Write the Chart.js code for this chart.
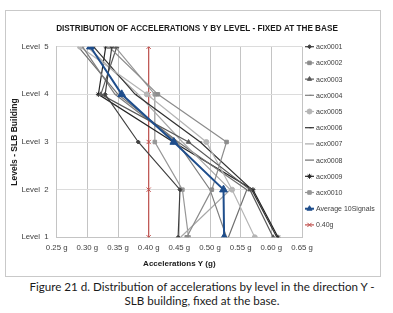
<!DOCTYPE html>
<html>
<head>
<meta charset="utf-8">
<script src="https://cdn.jsdelivr.net/npm/chart.js@4/dist/chart.umd.min.js"></script>
<style>
  body { margin: 0; background: #fff; width: 393px; height: 313px; overflow: hidden; }
  #frame { position: absolute; left: 5px; top: 10px; width: 374px; height: 265px; border: 1px solid #c9c9c9; }
  #frame canvas { display: block; }
  .cap { position: absolute; left: 0; width: 404px; text-align: center; font-family: Lato, "Open Sans", sans-serif; font-size: 11.6px; color: #1a1a1a; white-space: nowrap; }
</style>
</head>
<body>
<div id="frame"><canvas id="chart" width="374" height="265"></canvas></div>
<div class="cap" style="top:280px">Figure 21 d. Distribution of accelerations by level in the direction Y -</div>
<div class="cap" style="top:294px">SLB building, fixed at the base.</div>
<script>
// levels 1..5 (bottom to top)
const levels = [1, 2, 3, 4, 5];

// accelerations Y (g) per level, Level 1 -> Level 5
const acx0001 = [0.448, 0.451, 0.383, 0.329, 0.340];
const acx0002 = [0.462, 0.503, 0.527, 0.415, 0.335];
const acx0003 = [0.603, 0.565, 0.465, 0.322, 0.348];
const acx0004 = [0.527, 0.500, 0.446, 0.345, 0.292];
const acx0005 = [0.573, 0.536, 0.494, 0.397, 0.288];
const acx0006 = [0.609, 0.568, 0.484, 0.378, 0.310];
const acx0007 = [0.452, 0.533, 0.455, 0.383, 0.300];
const acx0008 = [0.530, 0.560, 0.448, 0.350, 0.285];
const acx0009 = [0.611, 0.570, 0.440, 0.318, 0.330];
const acx0010 = [0.465, 0.455, 0.410, 0.410, 0.345];
const average10 = [0.523, 0.522, 0.441, 0.356, 0.305];
const limit040 = [0.40, 0.40, 0.40, 0.40, 0.40];

const xTicks = [0.25, 0.30, 0.35, 0.40, 0.45, 0.50, 0.55, 0.60, 0.65];
const chartTitle = "DISTRIBUTION OF ACCELERATIONS Y BY LEVEL - FIXED AT THE BASE";

const sans = '"Liberation Sans", Arial, sans-serif';

function pts(vals) {
  return vals.map((v, i) => ({ x: v, y: levels[i] }));
}

function series(label, vals, color, style, r, width, order) {
  return {
    label: label,
    data: pts(vals),
    borderColor: color,
    backgroundColor: color,
    borderWidth: width || 1.2,
    pointStyle: style || 'circle',
    pointRadius: r,
    pointBorderWidth: 1,
    pointHoverRadius: r,
    showLine: true,
    tension: 0,
    order: order == null ? 2 : order
  };
}

const datasets = [
  series("acx0001", acx0001, "#404040", "rectRot", 2),
  series("acx0002", acx0002, "#8c8c8c", "rect", 2.5),
  series("acx0003", acx0003, "#5a5a5a", "triangle", 2.5),
  series("acx0004", acx0004, "#7f7f7f", "dash", 2),
  series("acx0005", acx0005, "#b5b5b5", "circle", 2.5),
  series("acx0006", acx0006, "#333333", "dash", 2),
  series("acx0007", acx0007, "#a8a8a8", "circle", 0),
  series("acx0008", acx0008, "#707070", "circle", 0),
  series("acx0009", acx0009, "#262626", "star", 2.5),
  series("acx0010", acx0010, "#979797", "rect", 2.5),
  series("Average 10Signals", average10, "#1f4e8c", "triangle", 4.5, 2, 0),
  series("0.40g", limit040, "#c0504d", "crossRot", 3, 1.2, 3)
];

// title + legend drawn on canvas
const frameDeco = {
  id: 'frameDeco',
  afterDraw(chart) {
    const ctx = chart.ctx;
    ctx.save();
    ctx.font = 'bold 8.2px ' + sans;
    ctx.fillStyle = '#1a1a1a';
    ctx.textAlign = 'center';
    ctx.textBaseline = 'middle';
    ctx.fillText(chartTitle, 191, 18);

    ctx.font = '7px ' + sans;
    ctx.textAlign = 'left';
    chart.data.datasets.forEach((ds, i) => {
      const y = chart.chartArea.top + i * 16.2;
      ctx.strokeStyle = ds.borderColor;
      ctx.lineWidth = ds.borderWidth;
      ctx.beginPath();
      ctx.moveTo(299, y);
      ctx.lineTo(308, y);
      ctx.stroke();
      if (ds.pointRadius > 0 && Chart.helpers && Chart.helpers.drawPoint) {
        ctx.fillStyle = ds.backgroundColor;
        ctx.lineWidth = 1;
        Chart.helpers.drawPoint(ctx, {
          pointStyle: ds.pointStyle,
          radius: Math.min(ds.pointRadius, 3),
          rotation: 0,
          borderWidth: 1
        }, 303.5, y);
      }
      ctx.fillStyle = '#404040';
      ctx.fillText(ds.label, 310, y + 0.5);
    });
    ctx.restore();
  }
};

new Chart(document.getElementById("chart"), {
  type: "scatter",
  data: { datasets: datasets },
  plugins: [frameDeco],
  options: {
    responsive: false,
    animation: false,
    layout: { padding: { top: 35.7, right: 78, left: 0, bottom: 0 } },
    plugins: {
      legend: { display: false },
      tooltip: { enabled: false }
    },
    scales: {
      x: {
        type: "linear",
        min: 0.25,
        max: 0.65,
        afterFit: s => { s.height = 38.7; },
        afterBuildTicks: s => { s.ticks = xTicks.map(v => ({ value: v })); },
        grid: { color: "#c4c4c4", drawTicks: false },
        border: { color: "#c4c4c4" },
        ticks: {
          padding: 6,
          color: "#404040",
          font: { size: 7.8, family: sans },
          callback: v => v.toFixed(2) + " g"
        },
        title: {
          display: true,
          text: "Accelerations Y (g)",
          color: "#1a1a1a",
          font: { size: 8, weight: "bold", family: sans },
          padding: { top: 0, bottom: 7 }
        }
      },
      y: {
        type: "linear",
        min: 1,
        max: 5,
        afterFit: s => { s.width = 50.7; },
        grid: { color: "#dcdcdc", drawTicks: false },
        border: { color: "#c4c4c4" },
        ticks: {
          stepSize: 1,
          padding: 8,
          color: "#404040",
          font: { size: 7.8, family: sans },
          callback: v => "Level  " + v
        },
        title: {
          display: true,
          text: "Levels - SLB Building",
          color: "#1a1a1a",
          font: { size: 8.5, weight: "bold", family: sans },
          padding: { top: 4, bottom: 0 }
        }
      }
    }
  }
});
</script>
</body>
</html>
